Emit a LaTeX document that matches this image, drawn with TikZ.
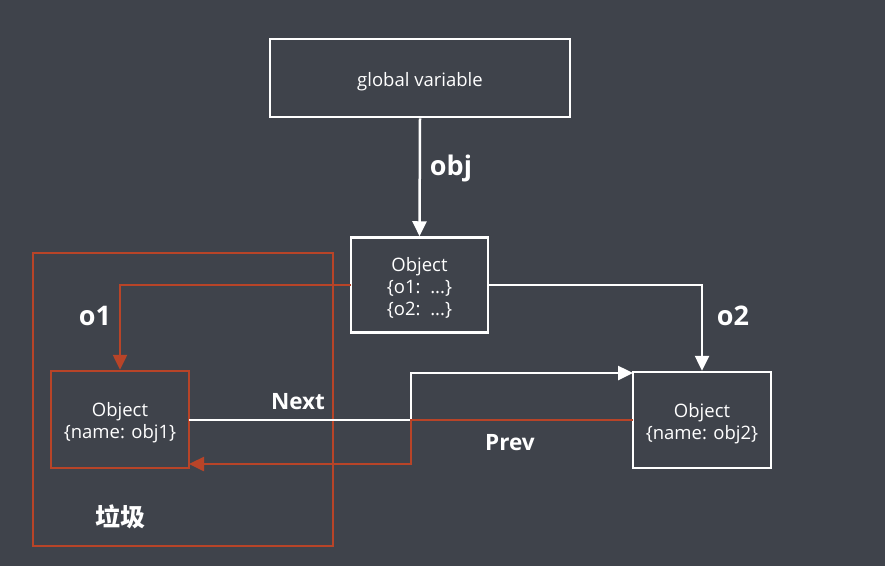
\documentclass[tikz,border=0pt]{standalone}
\usepackage{fontspec}
\setmainfont{Open Sans}
\newfontfamily\cjk{Noto Sans CJK SC}
\usetikzlibrary{arrows.meta}
\definecolor{bg}{RGB}{63,67,75}
\definecolor{rd}{RGB}{184,68,40}
\newcommand{\boxtxt}[1]{\raisebox{-4pt}[\height][\depth]{\begin{tabular}{@{}c@{}}#1\end{tabular}}}
\tikzset{
  box/.style={draw=white, line width=2.5pt, fill=bg, text=white, font=\fontsize{18.5}{22}\selectfont, inner sep=0pt},
  lbl/.style={text=white, font=\fontsize{27}{30}\selectfont\bfseries},
  wline/.style={draw=white, line width=2.5pt, -{Triangle[length=15pt,width=14pt]}},
  rline/.style={draw=rd, line width=2.5pt, -{Triangle[length=15pt,width=14pt]}},
}
\begin{document}
\begin{tikzpicture}[x=1pt,y=-1pt]
\fill[bg] (0,0) rectangle (885,566);
\useasboundingbox (0,0) rectangle (885,566);
% garbage region
\node[draw=rd, line width=2.5pt, minimum width=300pt, minimum height=293pt, inner sep=0pt] (garb) at (183,399.5) {};
\node[text=white, font=\cjk\fontsize{25}{28}\selectfont\bfseries] (lj) at (120,517) {垃圾};
% nodes
\node[box, minimum width=300pt, minimum height=78pt] (glob) at (420,78) {\boxtxt{global variable}};
\node[box, minimum width=137pt, minimum height=95pt] (root) at (419.5,285) {\boxtxt{Object\\\{o1:\ \ ...\}\\\{o2:\ \ ...\}}};
\node[box, draw=rd, minimum width=138pt, minimum height=97pt] (o1) at (120,419.5) {\boxtxt{Object\\\{name: obj1\}}};
\node[box, minimum width=138pt, minimum height=96pt] (o2) at (702,420) {\boxtxt{Object\\\{name: obj2\}}};
% coordinates
\coordinate (rootL) at (351,285);
\coordinate (rootR) at (488,285);
\coordinate (o1R) at (189,420);
\coordinate (o1Rb) at (189,464);
\coordinate (o2L) at (633,420);
\coordinate (o2Lt) at (633,373);
% connectors
\draw[wline] (glob.south) -- (root.north);
\node[lbl] (lobj) at (451,168) {obj};
\draw[wline] (rootR) -| (o2.north);
\node[lbl] (lo2) at (733,316) {o2};
\draw[wline] (o1R) -- (411,420) |- (o2Lt);
\node[lbl, font=\fontsize{22.5}{26}\selectfont\bfseries] (lnext) at (298,402) {Next};
\draw[rline] (rootL) -| (o1.north);
\node[lbl] (lo1) at (95,316) {o1};
\draw[rline] (o2L) -- (411,420) |- (o1Rb);
\node[lbl, font=\fontsize{22.5}{26}\selectfont\bfseries] (lprev) at (510,443) {Prev};
\end{tikzpicture}
\end{document}
